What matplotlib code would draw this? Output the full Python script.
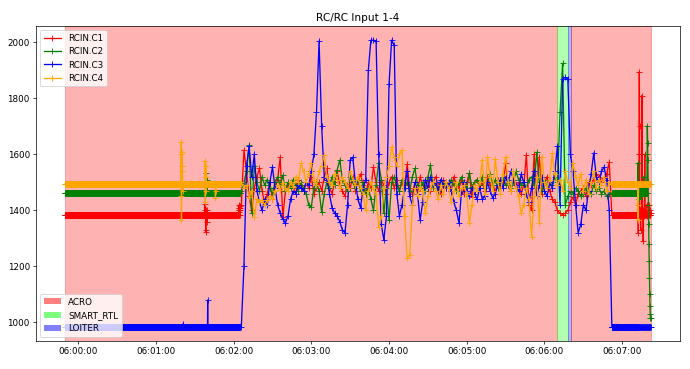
import datetime as dt

import numpy as np
import matplotlib
matplotlib.use("Agg")
import matplotlib.pyplot as plt
import matplotlib.dates as mdates
from matplotlib.patches import Patch

# figure drawn at 11 in wide and scaled down to 690 px
DPI = 690 / 11.0

BASE = dt.datetime(2024, 1, 1, 6, 0, 0)

# ----------------------------------------------------------------------
# RCIN channels in four log segments (seconds from 06:00:00):
#   idle    t = -10 .. 124.9   (0.1 s samples)
#   flight  t = 126 .. 410     (2 s samples)
#   landed  t = 412 .. 431.9   (0.1 s samples)
#   sticks  t = 432 .. 442     (0.2 s samples)
# ----------------------------------------------------------------------
SEG_START = [-10.0, 126.0, 412.0, 432.0]
SEG_STEP = [0.1, 2.0, 0.1, 0.2]

C1_IDLE = ([1383] * 1080
           + [1423, 1400, 1383, 1383, 1383, 1330, 1323, 1383, 1383, 1383,
              1400, 1380, 1383, 1383, 1383, 1360, 1400, 1383]
           + [1383] * 242
           + [1400, 1383, 1410, 1395, 1420, 1383, 1400, 1410, 1383, 1415])
C2_IDLE = [1462] * 1090 + [1533, 1500, 1470, 1462, 1462, 1510, 1470] + [1462] * 253
C3_IDLE = [985] * 910 + [995] + [985] * 189 + [1080] + [985] * 249
C4_IDLE = ([1495] * 895
           + [1600, 1645, 1450, 1365, 1500, 1495, 1495, 1610, 1540, 1495, 1560, 1470]
           + [1495] * 173
           + [1577, 1520, 1430, 1495, 1495, 1470, 1520, 1495, 1560]
           + [1495] * 71 + [1444, 1470] + [1495] * 188)

C1_FLIGHT = [
    1420, 1615, 1540, 1450, 1400, 1480, 1520, 1550, 1470, 1430,
    1460, 1500, 1440, 1480, 1510, 1590, 1375, 1470, 1490, 1500,
    1480, 1460, 1510, 1490, 1470, 1500, 1480, 1520, 1460, 1480,
    1500, 1470, 1520, 1550, 1480, 1460, 1500, 1540, 1490, 1470,
    1450, 1500, 1480, 1520, 1470, 1500, 1530, 1490, 1460, 1500,
    1480, 1555, 1500, 1470, 1510, 1490, 1460, 1500, 1520, 1480,
    1510, 1470, 1500, 1490, 1565, 1480, 1460, 1500, 1470, 1520,
    1490, 1480, 1510, 1470, 1500, 1520, 1490, 1460, 1510, 1480,
    1500, 1470, 1520, 1490, 1480, 1510, 1460, 1500, 1533, 1448,
    1490, 1510, 1480, 1500, 1470, 1520, 1490, 1500, 1460, 1510,
    1480, 1500, 1568, 1490, 1470, 1510, 1480, 1500, 1460, 1490,
    1597, 1420, 1400, 1600, 1480, 1590, 1460, 1500, 1520, 1470,
    1440, 1430, 1400, 1390, 1385, 1390, 1400, 1430, 1448, 1420,
    1460, 1470, 1480, 1450, 1500, 1490, 1510, 1530, 1520, 1500,
    1515, 1530, 1572,
]
C2_FLIGHT = [
    1470, 1500, 1540, 1633, 1390, 1560, 1500, 1470, 1520, 1490,
    1510, 1480, 1460, 1500, 1520, 1490, 1525, 1470, 1500, 1480,
    1510, 1490, 1470, 1500, 1480, 1460, 1420, 1412, 1480, 1500,
    1470, 1393, 1460, 1500, 1480, 1520, 1490, 1545, 1580, 1510,
    1490, 1470, 1520, 1500, 1480, 1510, 1470, 1500, 1460, 1480,
    1440, 1400, 1490, 1570, 1510, 1390, 1480, 1365, 1500, 1520,
    1490, 1470, 1510, 1480, 1500, 1470, 1520, 1550, 1490, 1480,
    1500, 1470, 1520, 1562, 1480, 1500, 1470, 1510, 1490, 1500,
    1480, 1510, 1490, 1470, 1500, 1520, 1490, 1480, 1533, 1485,
    1500, 1510, 1490, 1520, 1480, 1500, 1530, 1490, 1510, 1480,
    1500, 1520, 1490, 1510, 1480, 1500, 1540, 1510, 1490, 1500,
    1480, 1510, 1520, 1490, 1608, 1500, 1470, 1510, 1480, 1500,
    1490, 1520, 1500, 1750, 1925, 1420, 1450, 1470, 1460, 1480,
    1470, 1450, 1460, 1480, 1470, 1460, 1490, 1470, 1480, 1460,
    1470, 1450, 1460,
]
C3_FLIGHT = [
    985, 1200, 1560, 1630, 1520, 1600, 1470, 1430, 1400, 1440,
    1420, 1500, 1555, 1480, 1420, 1390, 1370, 1355, 1380, 1440,
    1470, 1460, 1490, 1480, 1470, 1500, 1490, 1540, 1600, 1750,
    2005, 1700, 1520, 1510, 1460, 1410, 1390, 1380, 1360, 1330,
    1320, 1420, 1580, 1590, 1500, 1440, 1410, 1480, 1510, 1900,
    2008, 2008, 2005, 1600, 1350, 1295, 1380, 1850, 2008, 1990,
    1460, 1380, 1420, 1480, 1540, 1450, 1420, 1500, 1460, 1365,
    1430, 1510, 1480, 1520, 1490, 1500, 1470, 1510, 1490, 1480,
    1500, 1470, 1430, 1400, 1355, 1470, 1500, 1470, 1450, 1480,
    1460, 1440, 1480, 1440, 1450, 1500, 1470, 1445, 1460, 1490,
    1510, 1480, 1520, 1500, 1540, 1510, 1490, 1470, 1530, 1500,
    1460, 1430, 1480, 1540, 1450, 1490, 1520, 1470, 1450, 1500,
    1480, 1540, 1630, 1420, 1870, 1875, 1870, 1600, 1540, 1420,
    1320, 1350, 1420, 1400, 1470, 1530, 1605, 1520, 1500, 1540,
    1555, 1510, 1400,
]
C4_FLIGHT = [
    1500, 1480, 1490, 1448, 1470, 1377, 1440, 1430, 1437, 1420,
    1437, 1450, 1440, 1470, 1490, 1472, 1497, 1480, 1470, 1500,
    1485, 1520, 1500, 1568, 1540, 1500, 1530, 1570, 1510, 1490,
    1540, 1560, 1597, 1520, 1500, 1490, 1530, 1510, 1480, 1520,
    1500, 1480, 1540, 1510, 1490, 1520, 1480, 1460, 1400, 1470,
    1500, 1480, 1460, 1340, 1380, 1480, 1520, 1560, 1627, 1590,
    1560, 1600, 1615, 1380, 1230, 1240, 1420, 1480, 1450, 1485,
    1470, 1390, 1450, 1480, 1500, 1470, 1440, 1490, 1460, 1500,
    1480, 1430, 1470, 1500, 1450, 1480, 1490, 1460, 1355, 1420,
    1490, 1470, 1500, 1580, 1460, 1590, 1520, 1470, 1585, 1500,
    1460, 1530, 1590, 1500, 1470, 1540, 1480, 1450, 1390, 1420,
    1480, 1440, 1305, 1450, 1520, 1355, 1590, 1500, 1480, 1510,
    1604, 1530, 1490, 1510, 1470, 1540, 1500, 1480, 1568, 1520,
    1490, 1530, 1470, 1510, 1460, 1500, 1540, 1480, 1510, 1490,
    1520, 1470, 1500,
]

C1_REST = [1383] * 200
C2_REST = [1462] * 200
C3_REST = [985] * 200
C4_REST = [1495] * 200

C1_END = [
    1383, 1383, 1320, 1383, 1383, 1600, 1895, 1700, 1383, 1383,
    1400, 1330, 1383, 1383, 1380, 1383, 1810, 1600, 1383, 1383,
    1400, 1290, 1383, 1383, 1380, 1383, 1450, 1600, 1383, 1383,
    1400, 1383, 1383, 1390, 1420, 1383, 1383, 1380, 1383, 1400,
    1383, 1383, 1390, 1383, 1383, 1420, 1383, 1383, 1400, 1383,
    1390,
]
C2_END = [
    1462, 1570, 1500, 1462, 1440, 1462, 1462, 1480, 1462, 1450,
    1462, 1462, 1490, 1462, 1450, 1462, 1462, 1480, 1462, 1462,
    1470, 1462, 1462, 1520, 1462, 1462, 1450, 1462, 1462, 1480,
    1462, 1462, 1462, 1490, 1462, 1462, 1600, 1702, 1640, 1580,
    1500, 1420, 1350, 1280, 1220, 1160, 1100, 1060, 1030, 1015,
    1015,
]
C3_END = [985] * 51
C4_END = [1495, 1365, 1420] + [1495] * 48

LABELS = ["RCIN.C1", "RCIN.C2", "RCIN.C3", "RCIN.C4"]
COLORS = ["red", "green", "blue", "orange"]

# flight modes (start time in s from 06:00:00)
MODE_NAMES = ["ACRO", "SMART_RTL", "LOITER", "ACRO"]
MODE_START = [-10.0, 369.7, 378.2, 380.7]
LOG_END = 442.0
MODE_COLORS = {"ACRO": "red", "SMART_RTL": "lime", "LOITER": "blue"}

# ----------------------------------------------------------------------
channels = [
    (C1_IDLE, C1_FLIGHT, C1_REST, C1_END),
    (C2_IDLE, C2_FLIGHT, C2_REST, C2_END),
    (C3_IDLE, C3_FLIGHT, C3_REST, C3_END),
    (C4_IDLE, C4_FLIGHT, C4_REST, C4_END),
]


def to_time(sec):
    return BASE + dt.timedelta(seconds=float(sec))


def seg_times(segments):
    secs = []
    for vals, t0, step in zip(segments, SEG_START, SEG_STEP):
        secs.extend(t0 + step * np.arange(len(vals)))
    return [to_time(s) for s in secs]


fig = plt.figure(figsize=(11.0, 5.885))
ax = fig.add_axes([0.052, 0.076, 0.9335, 0.8535])

ends = MODE_START[1:] + [LOG_END]
for name, t0, t1 in zip(MODE_NAMES, MODE_START, ends):
    ax.axvspan(to_time(t0), to_time(t1), color=MODE_COLORS[name], alpha=0.3)

lines = []
for segs, lab, col in zip(channels, LABELS, COLORS):
    vals = [v for seg in segs for v in seg]
    ln, = ax.plot(seg_times(segs), vals, color=col, marker="+", label=lab)
    lines.append(ln)

ax.set_title("RC/RC Input 1-4")
ax.xaxis.set_major_locator(mdates.MinuteLocator())
ax.xaxis.set_major_formatter(mdates.DateFormatter("%H:%M:%S"))

leg1 = ax.legend(handles=lines, loc="upper left")
ax.add_artist(leg1)
mode_handles = [Patch(facecolor=MODE_COLORS[m], alpha=0.5, label=m)
                for m in ["ACRO", "SMART_RTL", "LOITER"]]
ax.legend(handles=mode_handles, loc="lower left")

fig.savefig("out.png", dpi=DPI)
